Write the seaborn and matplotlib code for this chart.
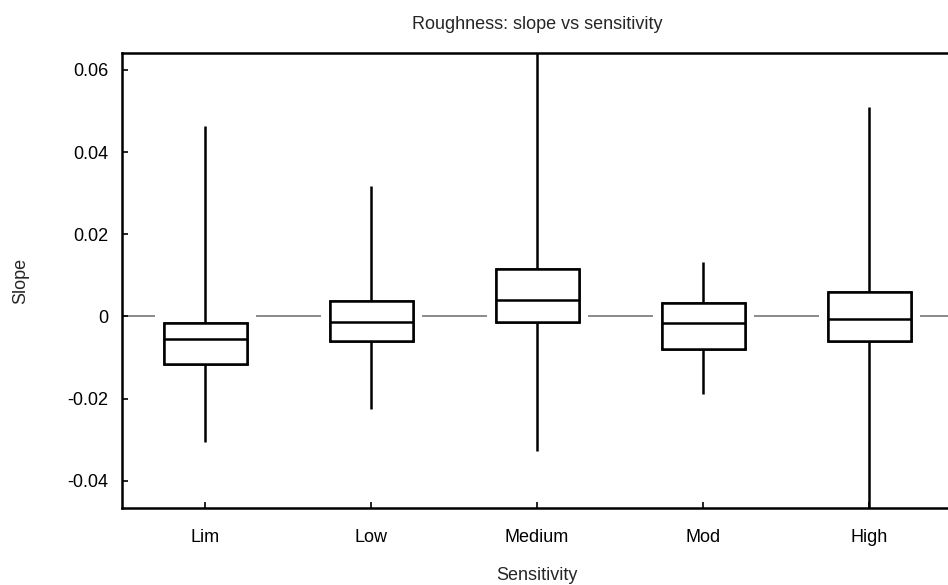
import matplotlib
matplotlib.use("Agg")
import matplotlib.pyplot as plt
import matplotlib.patheffects as pe
import seaborn as sns
import pandas as pd

# five-number summaries: min, q1, median, q3, max
categories = ["Lim", "Low", "Medium", "Mod", "High"]
lim_vals = [-0.0305, -0.0115, -0.0056, -0.0015, 0.0463]
low_vals = [-0.0224, -0.0060, -0.0014, 0.0037, 0.0317]
medium_vals = [-0.0327, -0.0013, 0.0041, 0.0115, 0.0680]
mod_vals = [-0.0188, -0.0080, -0.0015, 0.0032, 0.0132]
high_vals = [-0.0550, -0.0059, -0.0007, 0.0059, 0.0510]

yticks = [-0.04, -0.02, 0, 0.02, 0.04, 0.06]
ytick_labels = ["-0.04", "-0.02", "0", "0.02", "0.04", "0.06"]

rows = []
for cat, vals in zip(categories, [lim_vals, low_vals, medium_vals, mod_vals, high_vals]):
    for v in vals:
        rows.append({"Sensitivity": cat, "Slope": v})
df = pd.DataFrame(rows)

sns.set_style("white")
plt.rcParams["font.family"] = ["Liberation Sans", "DejaVu Sans"]

fig = plt.figure(figsize=(9.48, 5.85), dpi=100)
ax = fig.add_axes([122 / 948, 77 / 585, 830 / 948, 455 / 585])

ax.axhline(0, color="#8a8a8a", lw=1.4, zorder=0.5)

sns.boxplot(data=df, x="Sensitivity", y="Slope", order=categories, ax=ax,
            whis=(0, 100), width=0.5, showcaps=False, fliersize=0,
            color="white", linecolor="black", linewidth=1.8, saturation=1)

# white halo round the boxes so the zero line stops short of them
for p in ax.patches:
    p.set_path_effects([pe.withStroke(linewidth=13, foreground="white"), pe.Normal()])

ax.set_xlim(-0.5, 4.5)
ax.set_ylim(-0.0466, 0.0641)
ax.set_yticks(yticks)
ax.set_yticklabels(ytick_labels)

ax.tick_params(axis="both", direction="in", length=4, width=1.2, colors="black",
               labelsize=13)
ax.tick_params(axis="y", pad=10)
ax.tick_params(axis="x", pad=15)
ax.tick_params(left=True, bottom=True)

for s in ax.spines.values():
    s.set_color("black")
    s.set_linewidth(1.8)

ax.set_title("Roughness: slope vs sensitivity", fontsize=13, pad=17)
ax.set_xlabel("Sensitivity", fontsize=13, labelpad=15)
ax.set_ylabel("Slope", fontsize=13, labelpad=27)

fig.savefig("out.png", dpi=100)
